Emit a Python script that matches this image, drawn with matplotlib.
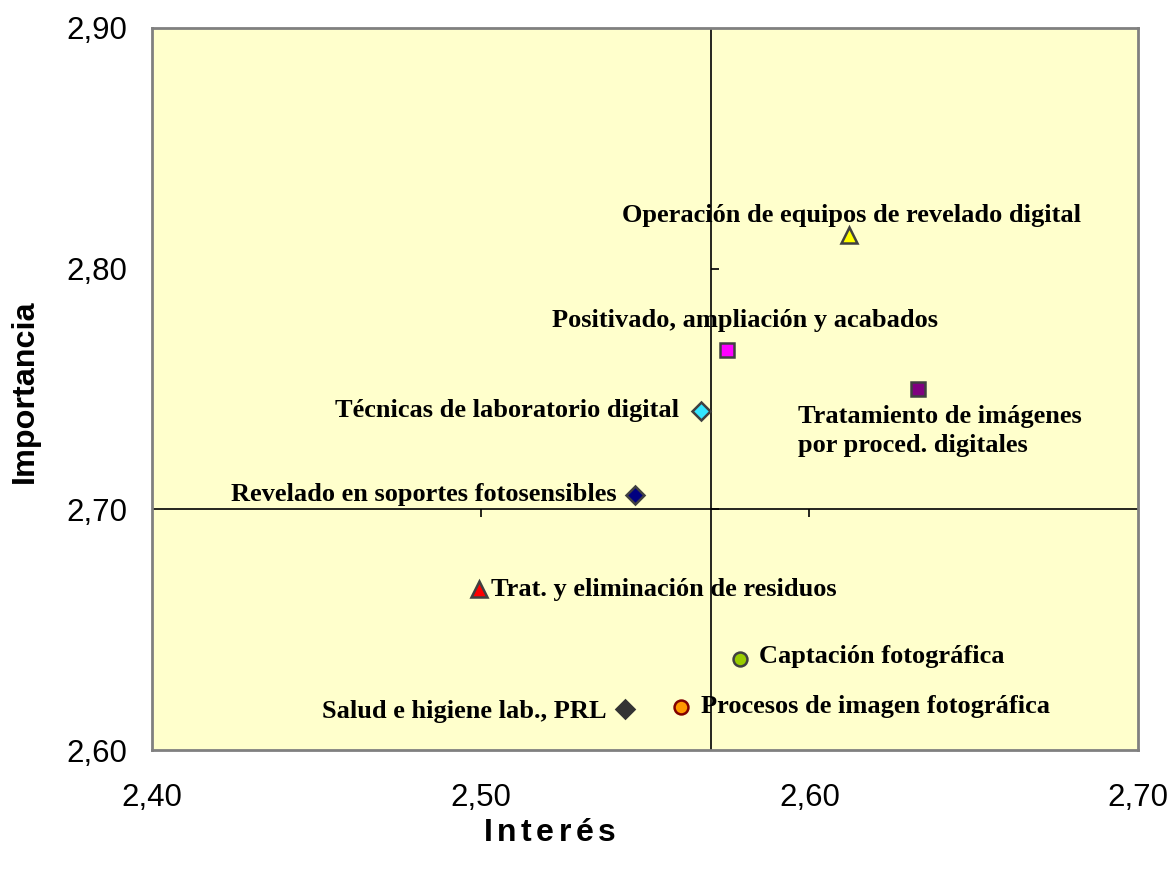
import matplotlib
matplotlib.use("Agg")
import matplotlib.pyplot as plt

# Data
labels = ["Operación de equipos de revelado digital",
          "Positivado, ampliación y acabados",
          "Tratamiento de imágenes\npor proced. digitales",
          "Técnicas de laboratorio digital",
          "Revelado en soportes fotosensibles",
          "Trat. y eliminación de residuos",
          "Captación fotográfica",
          "Procesos de imagen fotográfica",
          "Salud e higiene lab., PRL"]
interes = [2.612, 2.575, 2.633, 2.567, 2.547, 2.4995, 2.579, 2.561, 2.544]
importancia = [2.814, 2.766, 2.750, 2.741, 2.706, 2.667, 2.638, 2.618, 2.617]
cross_x = 2.570
cross_y = 2.70
x_ticks = [2.40, 2.50, 2.60, 2.70]
y_ticks = [2.60, 2.70, 2.80, 2.90]
x_tick_labels = ["2,40", "2,50", "2,60", "2,70"]
y_tick_labels = ["2,60", "2,70", "2,80", "2,90"]
x_title = "Interés"
y_title = "Importancia"

# Styles
markers = ["^", "s", "s", "D", "D", "^", "o", "o", "D"]
faces = ["#FFFF00", "#FF00FF", "#800080", "#33E6FF", "#000080", "#FF0000", "#99CC00", "#FF9900", "#333333"]
edges = ["#404040", "#404040", "#404040", "#404040", "#404040", "#404040", "#404040", "#800000", "#333333"]
msizes = [11, 10.5, 10.5, 9, 9, 11, 10, 10, 9]
offsets = [(3, 19), (18, 30), (-120, -42), (-22, 0), (-19, 0), (12, -1), (19, 2), (20, 0), (-19, -2)]
has = ["center", "center", "left", "right", "right", "left", "left", "left", "right"]

fig = plt.figure(figsize=(11.73, 8.72), dpi=100)
ax = fig.add_axes([0.1296, 0.1399, 0.9702 - 0.1296, 0.9679 - 0.1399])
ax.set_facecolor("#FFFFCC")
ax.set_xlim(x_ticks[0], x_ticks[-1])
ax.set_ylim(y_ticks[0], y_ticks[-1])

# crosshair axes
ax.plot([x_ticks[0], x_ticks[-1]], [cross_y, cross_y], color="black", lw=1.2, zorder=2)
ax.plot([cross_x, cross_x], [y_ticks[0], y_ticks[-1]], color="black", lw=1.2, zorder=2)
ax.plot(x_ticks[1:-1], [cross_y] * (len(x_ticks) - 2), ls="none", marker=3, ms=6, mew=1.2, color="black", zorder=2)
ax.plot([cross_x] * (len(y_ticks) - 2), y_ticks[1:-1], ls="none", marker=1, ms=6, mew=1.2, color="black", zorder=2)

for i in range(len(labels)):
    ax.plot(interes[i], importancia[i], marker=markers[i], ms=msizes[i], mfc=faces[i], mec=edges[i],
            mew=1.8, ls="none", zorder=3)
    ax.annotate(labels[i], (interes[i], importancia[i]), xytext=offsets[i], textcoords="offset pixels",
                ha=has[i], va="center", fontsize=19, fontweight="bold", family="Liberation Serif",
                color="black", zorder=4, multialignment="left", linespacing=1.38)

ax.set_xticks(x_ticks)
ax.set_xticklabels(x_tick_labels)
ax.set_yticks(y_ticks)
ax.set_yticklabels(y_tick_labels)
ax.tick_params(length=0, labelsize=22.5)
ax.tick_params(axis="x", pad=24)
ax.tick_params(axis="y", pad=18)
for lab in ax.get_xticklabels() + ax.get_yticklabels():
    lab.set_family("Liberation Sans")
for s in ax.spines.values():
    s.set_color("#808080")
    s.set_linewidth(2)

# x title with letter spacing, drawn character by character
renderer = fig.canvas.get_renderer()
gap = 4.5
chars = []
widths = []
for ch in x_title:
    t = fig.text(0, 0, ch, fontsize=23, fontweight="bold", family="Liberation Sans", va="center", ha="left")
    widths.append(t.get_window_extent(renderer).width)
    chars.append(t)
total = sum(widths) + gap * (len(chars) - 1)
cx = 549.5
x0 = cx - total / 2
for t, w in zip(chars, widths):
    t.set_position((x0 / fig.bbox.width, 0.045))
    x0 += w + gap

fig.text(0.0213, 0.5516, y_title, ha="center", va="center", rotation=90, fontsize=23.3,
         fontweight="bold", family="Liberation Sans")

fig.savefig("out.png", dpi=100, facecolor="white")
